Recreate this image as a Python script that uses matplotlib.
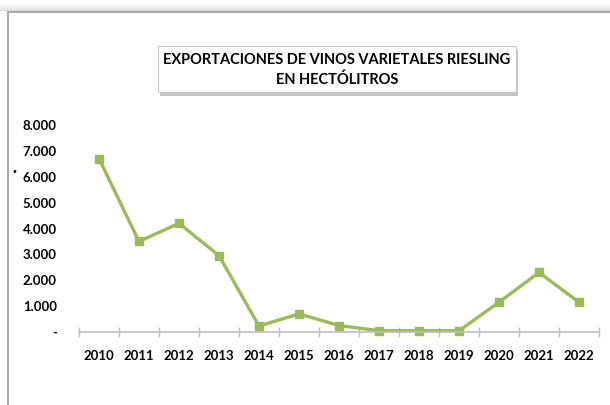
import matplotlib
matplotlib.use("Agg")
from matplotlib import pyplot as plt
from matplotlib.patches import Rectangle
import numpy as np

years = ['2010', '2011', '2012', '2013', '2014', '2015', '2016',
         '2017', '2018', '2019', '2020', '2021', '2022']
hectolitros = [6700, 3500, 4200, 2950, 230, 700, 250, 50, 50, 50, 1150, 2300, 1150]
yticks = [0, 1000, 2000, 3000, 4000, 5000, 6000, 7000, 8000]
title = 'EXPORTACIONES DE VINOS VARIETALES RIESLING\nEN HECTÓLITROS'

W, H = 610, 405
fig = plt.figure(figsize=(W / 100, H / 100), dpi=100)

# outer frame with soft shadow on top
for i, c in enumerate(['#f6f6f6', '#efefef', '#e6e6e6', '#dadada']):
    fig.add_artist(Rectangle((0, 1 - (12 - 4 + i) / H), 1, (4 - i) / H, zorder=-10,
                             transform=fig.transFigure, facecolor=c, edgecolor='none'))
fig.add_artist(Rectangle((8 / W, -0.05), 1.1, 1.05 - 12 / H, transform=fig.transFigure,
                         facecolor='white', edgecolor='#a6a6a6', linewidth=1.4, zorder=-9))

ax = fig.add_axes([79 / W, (H - 332) / H, (599 - 79) / W, (332 - 125) / H])
ax.set_facecolor('none')
x = np.arange(len(years))
ax.plot(x, hectolitros, color='#9bbb59', linewidth=2.4, marker='s', markersize=6,
        markerfacecolor='#9bbb59', markeredgecolor='#9bbb59', clip_on=False)

ax.set_xlim(-0.5, len(years) - 0.5)
ax.set_ylim(0, 8000)
for s in ['top', 'right', 'left']:
    ax.spines[s].set_visible(False)
ax.spines['bottom'].set_color('#bfbfbf')
ax.spines['bottom'].set_linewidth(1.2)

ax.set_xticks(x)
ax.set_xticklabels(years, fontsize=9.5, fontweight='bold', family='Lato')
ax.set_xticks(np.arange(-0.5, len(years)), minor=True)
ax.tick_params(axis='x', which='major', length=0, pad=13)
ax.tick_params(axis='x', which='minor', direction='inout', length=7, color='#bfbfbf', width=1)

ax.set_yticks(yticks)
ax.set_yticklabels(['-' if v == 0 else f'{v:,}'.replace(',', '.') for v in yticks],
                   fontsize=9.5, fontweight='bold', family='Lato')
ax.tick_params(axis='y', length=0, pad=16)

# small dot left of the axis
fig.text(14 / W, 1 - 172 / H, '•', fontsize=7, ha='center', va='center')

# title box with shadow
bx0, bx1, by0, by1 = 158, 516, 46, 92
fig.add_artist(Rectangle(((bx0 + 2) / W, 1 - (by1 + 4) / H), (bx1 - bx0) / W, (by1 - by0) / H,
                         transform=fig.transFigure, facecolor='#c4c4c4', edgecolor='none', zorder=5))
fig.add_artist(Rectangle((bx0 / W, 1 - by1 / H), (bx1 - bx0) / W, (by1 - by0) / H,
                         transform=fig.transFigure, facecolor='white', edgecolor='#c8c8c8',
                         linewidth=0.8, zorder=6))
fig.text((bx0 + bx1) / 2 / W, 1 - (by0 + by1 + 2) / 2 / H, title, ha='center', va='center',
         fontsize=10.5, fontweight='bold', family='Lato', linespacing=1.5, zorder=7)

fig.savefig('out.png', dpi=100)
